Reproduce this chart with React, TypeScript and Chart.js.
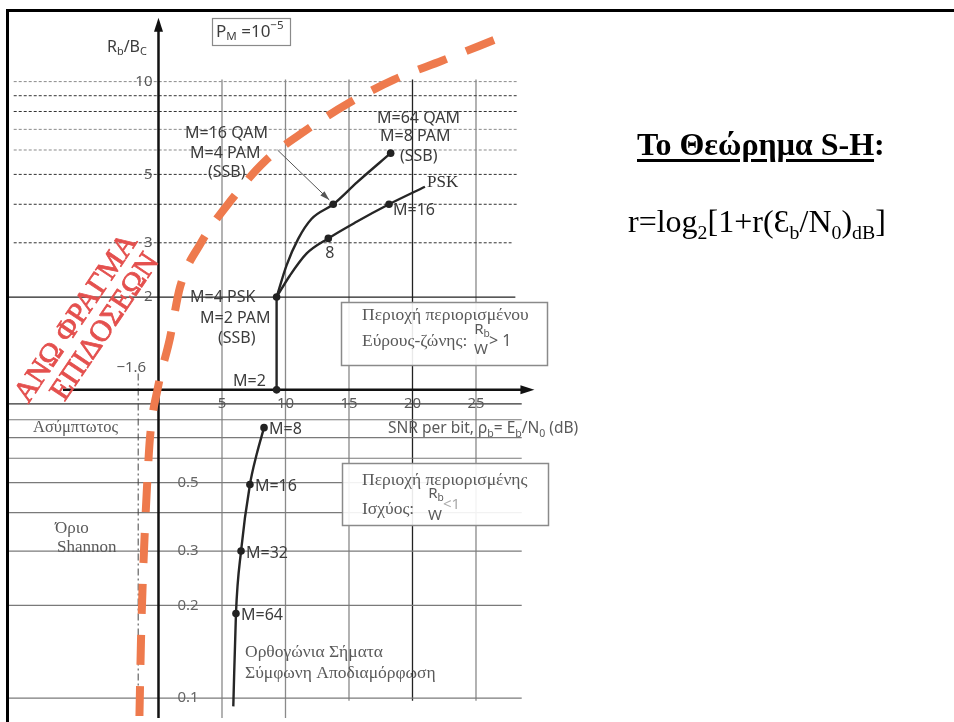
import React, { useEffect, useRef } from "react";
import { Chart, registerables } from "chart.js";

Chart.register(...registerables);

// Axis ranges: SNR per bit in dB (x) and spectral efficiency R/W on a log scale (y)
const SNR_MIN = -11.85;
const SNR_MAX = 30.04;
const RATE_MIN = 0.0862;
const RATE_MAX = 16.82;

const snrTickValues = [5, 10, 15, 20, 25];
const rateTicksAbove = [10, 5, 3, 2];
const rateTicksBelow = [0.5, 0.3, 0.2, 0.1];

const dottedGridRates = [10, 9, 8, 7, 6, 5, 4, 3];
const darkDottedRates = [9, 8, 5, 4, 3];
const solidGridRates = [0.9, 0.8, 0.7, 0.6, 0.5, 0.4, 0.3, 0.2, 0.1];
const verticalGridSnr = [5, 10, 15, 20, 25];

// Shannon capacity bound
const boundSnr = [-1.5, -1.38, -1.26, -1.1, -0.91, -0.67, -0.04, 0.9, 1.69, 3.35, 5.79, 8.39, 11.61, 14.92, 18.54, 22.32, 26.65];
const boundRate = [0.0875, 0.153, 0.225, 0.331, 0.48, 0.7, 1.02, 1.47, 2.15, 3.0, 4.16, 5.52, 6.95, 8.49, 10.15, 11.69, 13.76];

// Shannon limit asymptote (dB)
const shannonLimitDb = -1.6;

// Bandwidth-limited region: M=2 to M=4, then QAM/PAM and PSK branches
const bpskSnr = [9.3, 9.3];
const bpskRate = [1, 2];
const qamSnr = [9.3, 10.09, 11.0, 12.06, 13.76, 15.65, 18.28];
const qamRate = [2, 2.54, 3.09, 3.59, 4.0, 4.72, 5.86];
const pskSnr = [9.3, 10.35, 11.67, 13.37, 15.6, 18.15, 20.98];
const pskRate = [2, 2.35, 2.77, 3.1, 3.51, 4.0, 4.56];

// Power-limited region: orthogonal signals, coherent detection
const orthoSnr = [5.89, 6.1, 6.5, 7.2, 7.73, 8.31];
const orthoRate = [0.094, 0.188, 0.3, 0.493, 0.618, 0.754];

// Operating points marked on the curves
const pointSnr = [9.3, 9.3, 13.76, 18.28, 13.37, 18.15, 8.31, 7.2, 6.5, 6.1];
const pointRate = [1, 2, 4.0, 5.86, 3.1, 4.0, 0.754, 0.493, 0.3, 0.188];

// Callout from the 16-QAM label to its operating point
const calloutSnr = [9.37, 13.45];
const calloutRate = [6.0, 4.13];

const SANS = '"Noto Sans", "Open Sans", sans-serif';
const SERIF = '"Liberation Serif", "DejaVu Serif", serif';

type Part = [string, number];

const xy = (xs: number[], ys: number[]) => xs.map((x, i) => ({ x, y: ys[i] }));

function line(xs: number[], ys: number[], color: string, width: number, order: number, dash: number[] = []) {
  return {
    data: xy(xs, ys),
    borderColor: color,
    borderWidth: width,
    borderDash: dash,
    pointRadius: 0,
    fill: false,
    tension: 0,
    order,
  };
}

function rich(ctx: CanvasRenderingContext2D, parts: Part[], x: number, y: number, size: number, family: string, color: string, align = "left") {
  const small = size * 0.68;
  let total = 0;
  for (const [t, m] of parts) {
    ctx.font = `${m ? small : size}px ${family}`;
    total += ctx.measureText(t).width;
  }
  let cx = align === "center" ? x - total / 2 : align === "right" ? x - total : x;
  ctx.fillStyle = color;
  ctx.textAlign = "left";
  ctx.textBaseline = "middle";
  for (const [t, m] of parts) {
    ctx.font = `${m ? small : size}px ${family}`;
    const dy = m === 1 ? size * 0.3 : m === 2 ? -size * 0.38 : 0;
    ctx.fillText(t, cx, y + dy);
    cx += ctx.measureText(t).width;
  }
}

function text(ctx: CanvasRenderingContext2D, s: string, x: number, y: number, size: number, family: string, color: string, align: CanvasTextAlign = "left") {
  ctx.font = `${size}px ${family}`;
  ctx.fillStyle = color;
  ctx.textAlign = align;
  ctx.textBaseline = "middle";
  ctx.fillText(s, x, y);
}

const figureText = {
  id: "figureText",
  afterDatasetsDraw(chart: any) {
    const ctx: CanvasRenderingContext2D = chart.ctx;
    const X = (v: number) => chart.scales.x.getPixelForValue(v);
    const Y = (v: number) => chart.scales.y.getPixelForValue(v);
    ctx.save();

    // axis arrowheads
    ctx.fillStyle = "#111";
    const ax = X(0);
    const at = Y(16.1);
    ctx.beginPath();
    ctx.moveTo(ax, at);
    ctx.lineTo(ax - 4.5, at + 14);
    ctx.lineTo(ax + 4.5, at + 14);
    ctx.closePath();
    ctx.fill();
    const bx = X(29.6);
    const by = Y(1);
    ctx.beginPath();
    ctx.moveTo(bx, by);
    ctx.lineTo(bx - 14, by - 4.5);
    ctx.lineTo(bx - 14, by + 4.5);
    ctx.closePath();
    ctx.fill();

    // callout arrow
    const x0 = X(calloutSnr[0]);
    const y0 = Y(calloutRate[0]);
    const x1 = X(calloutSnr[1]);
    const y1 = Y(calloutRate[1]);
    ctx.strokeStyle = "#555";
    ctx.lineWidth = 1;
    ctx.beginPath();
    ctx.moveTo(x0, y0);
    ctx.lineTo(x1, y1);
    ctx.stroke();
    const ang = Math.atan2(y1 - y0, x1 - x0);
    ctx.fillStyle = "#555";
    ctx.beginPath();
    ctx.moveTo(x1, y1);
    ctx.lineTo(x1 - 10 * Math.cos(ang - 0.3), y1 - 10 * Math.sin(ang - 0.3));
    ctx.lineTo(x1 - 10 * Math.cos(ang + 0.3), y1 - 10 * Math.sin(ang + 0.3));
    ctx.closePath();
    ctx.fill();

    // boxes
    const box = (x: number, y: number, w: number, h: number, lw: number) => {
      ctx.fillStyle = "rgba(255,255,255,0.9)";
      ctx.fillRect(x, y, w, h);
      ctx.strokeStyle = "#8a8a8a";
      ctx.lineWidth = lw;
      ctx.strokeRect(x, y, w, h);
    };
    box(212.5, 18.5, 78, 27, 1.2);
    box(341.5, 302.5, 206, 63, 1.5);
    box(342.5, 463.5, 206, 62, 1.5);

    const ink = "#3c3c3c";
    const grey = "#5a5a5a";

    rich(ctx, [["P", 0], ["M", 1], [" =10", 0], ["\u22125", 2]], 216, 32, 17, SANS, ink);
    rich(ctx, [["R", 0], ["b", 1], ["/B", 0], ["C", 1]], 107, 47, 16, SANS, ink);

    // tick labels
    for (const v of rateTicksAbove) text(ctx, String(v), X(0) - 6, Y(v), 15, SANS, grey, "right");
    for (const v of rateTicksBelow) text(ctx, String(v), X(0) + 19, Y(v), 15, SANS, "#666", "left");
    for (const v of snrTickValues) text(ctx, String(v), X(v), Y(0.9), 15, SANS, grey, "center");
    text(ctx, "\u22121.6", X(shannonLimitDb) + 8, 368, 15, SANS, grey, "right");

    rich(ctx, [["SNR per bit, \u03c1", 0], ["b", 1], ["= E", 0], ["b", 1], ["/N", 0], ["0", 1], [" (dB)", 0]], 388, 429, 15.5, SANS, grey);

    // curve labels
    const lab = (s: string, x: number, y: number) => text(ctx, s, x, y, 16, SANS, ink);
    lab("M=16 QAM", 185, 133.5);
    lab("M=4 PAM", 190, 153.5);
    lab("(SSB)", 208, 172);
    lab("M=64 QAM", 377, 118.5);
    lab("M=8 PAM", 380, 136.5);
    lab("(SSB)", 400, 156.5);
    text(ctx, "PSK", 427, 182.5, 17, SERIF, "#333");
    lab("M=16", X(pointSnr[5]) + 4, Y(pointRate[5]) + 6);
    lab("8", X(pointSnr[4]) - 3, Y(pointRate[4]) + 15);
    lab("M=4 PSK", 190, 297.5);
    lab("M=2 PAM", 200, 318.5);
    lab("(SSB)", 218, 338.5);
    lab("M=2", 233, 381.5);
    const ortho = ["M=8", "M=16", "M=32", "M=64"];
    ortho.forEach((s, i) => lab(s, X(pointSnr[6 + i]) + 5, Y(pointRate[6 + i]) + 2));

    text(ctx, "\u039f\u03c1\u03b8\u03bf\u03b3\u03ce\u03bd\u03b9\u03b1 \u03a3\u03ae\u03bc\u03b1\u03c4\u03b1", 245, 652, 17.5, SERIF, grey);
    text(ctx, "\u03a3\u03cd\u03bc\u03c6\u03c9\u03bd\u03b7 \u0391\u03c0\u03bf\u03b4\u03b9\u03b1\u03bc\u03cc\u03c1\u03c6\u03c9\u03c3\u03b7", 245, 673, 17.5, SERIF, grey);
    text(ctx, "\u0391\u03c3\u03cd\u03bc\u03c0\u03c4\u03c9\u03c4\u03bf\u03c2", 33, 427.5, 16.5, SERIF, grey);
    text(ctx, "\u038c\u03c1\u03b9\u03bf", 55, 529, 17, SERIF, grey);
    text(ctx, "Shannon", 57, 548, 17, SERIF, grey);

    // region boxes
    text(ctx, "\u03a0\u03b5\u03c1\u03b9\u03bf\u03c7\u03ae \u03c0\u03b5\u03c1\u03b9\u03bf\u03c1\u03b9\u03c3\u03bc\u03ad\u03bd\u03bf\u03c5", 362, 315, 17.5, SERIF, grey);
    text(ctx, "\u0395\u03cd\u03c1\u03bf\u03c5\u03c2-\u03b6\u03ce\u03bd\u03b7\u03c2:", 362, 341, 17.5, SERIF, grey);
    rich(ctx, [["R", 0], ["b", 1]], 482, 330, 15, SANS, grey, "center");
    text(ctx, "W", 481, 350, 15, SANS, grey, "center");
    text(ctx, "> 1", 489, 341, 16, SANS, grey);

    text(ctx, "\u03a0\u03b5\u03c1\u03b9\u03bf\u03c7\u03ae \u03c0\u03b5\u03c1\u03b9\u03bf\u03c1\u03b9\u03c3\u03bc\u03ad\u03bd\u03b7\u03c2", 362, 480, 17.5, SERIF, grey);
    text(ctx, "\u0399\u03c3\u03c7\u03cd\u03bf\u03c2:", 362, 509, 17.5, SERIF, grey);
    rich(ctx, [["R", 0], ["b", 1]], 436, 493.5, 15, SANS, grey, "center");
    text(ctx, "W", 435, 516, 15, SANS, grey, "center");
    text(ctx, "<1", 443, 505, 15, SANS, "#aaa");

    // rotated heading of the bound
    ctx.save();
    ctx.translate(76.5, 318.5);
    ctx.rotate((-56 * Math.PI) / 180);
    ctx.font = `30px ${SERIF}`;
    ctx.textAlign = "center";
    ctx.textBaseline = "middle";
    ctx.fillStyle = "#e4504e";
    ctx.strokeStyle = "#e4504e";
    ctx.lineWidth = 0.8;
    ctx.fillText("\u0391\u039d\u03a9 \u03a6\u03a1\u0391\u0393\u039c\u0391", 0, 0);
    ctx.strokeText("\u0391\u039d\u03a9 \u03a6\u03a1\u0391\u0393\u039c\u0391", 0, 0);
    ctx.fillText("\u0395\u03a0\u0399\u0394\u039f\u03a3\u0395\u03a9\u039d", 9, 29);
    ctx.strokeText("\u0395\u03a0\u0399\u0394\u039f\u03a3\u0395\u03a9\u039d", 9, 29);
    ctx.restore();

    ctx.restore();
  },
};

function buildDatasets() {
  const ds: any[] = [];
  for (const r of dottedGridRates) {
    const dark = darkDottedRates.includes(r);
    ds.push(line([-11.4, r === 3 ? 27.8 : 28.2], [r, r], dark ? "#333" : "#8a8a8a", 1, 6, [3, 2]));
  }
  ds.push(line([SNR_MIN, 28.1], [2, 2], "#222", 1.3, 6));
  for (const r of solidGridRates) {
    ds.push(line([SNR_MIN, 28.6], [r, r], r === 0.9 ? "#333" : "#7a7a7a", 1.2, 6));
  }
  for (const v of verticalGridSnr) {
    ds.push(line([v, v], [10.15, v <= 10 ? RATE_MIN : 0.098], v === 20 ? "#222" : "#8a8a8a", 1.3, 6));
  }
  // axes
  ds.push(line([0, 0], [RATE_MIN, 15.4], "#111", 2.5, 4));
  ds.push(line([-7.52, 29.0], [1, 1], "#111", 2.5, 4));
  ds.push(line([shannonLimitDb, shannonLimitDb], [1.13, RATE_MIN], "#444", 1, 4, [7, 3, 2, 3]));

  const curve = (xs: number[], ys: number[]) => ({
    data: xy(xs, ys),
    borderColor: "#262626",
    borderWidth: 2.4,
    pointRadius: 0,
    fill: false,
    cubicInterpolationMode: "monotone",
    order: 2,
  });
  ds.push(curve(bpskSnr, bpskRate));
  ds.push(curve(qamSnr, qamRate));
  ds.push(curve(pskSnr, pskRate));
  ds.push(curve(orthoSnr, orthoRate));

  ds.push({
    data: xy(boundSnr, boundRate),
    borderColor: "#ee7a4d",
    borderWidth: 8,
    borderDash: [30, 21],
    borderCapStyle: "butt",
    pointRadius: 0,
    fill: false,
    cubicInterpolationMode: "monotone",
    order: 1,
  });
  ds.push({
    data: xy(pointSnr, pointRate),
    showLine: false,
    pointRadius: 3.8,
    pointBackgroundColor: "#222",
    pointBorderWidth: 0,
    order: 0,
  });
  return ds;
}

export default function App() {
  const ref = useRef<HTMLCanvasElement>(null);
  useEffect(() => {
    const chart = new Chart(ref.current as HTMLCanvasElement, {
      type: "line",
      data: { datasets: buildDatasets() },
      options: {
        animation: false,
        responsive: false,
        devicePixelRatio: 1,
        events: [],
        layout: { padding: { left: 8, right: 414, top: 12, bottom: 0 } },
        scales: {
          x: { type: "linear", min: SNR_MIN, max: SNR_MAX, display: false },
          y: { type: "logarithmic", min: RATE_MIN, max: RATE_MAX, display: false },
        },
        plugins: { legend: { display: false }, tooltip: { enabled: false } },
      },
      plugins: [figureText],
    } as any);
    return () => chart.destroy();
  }, []);

  return (
    <div style={{ position: "absolute", left: 0, top: 0, width: 954, height: 722, background: "#fff", overflow: "hidden" }}>
      <canvas ref={ref} width={954} height={722} style={{ position: "absolute", left: 0, top: 0, width: 954, height: 722 }} />
      <div style={{ position: "absolute", left: 6, top: 9, width: 960, height: 730, borderTop: "3px solid #000", borderLeft: "3px solid #000", pointerEvents: "none" }} />
      <div style={{ position: "absolute", left: 637, top: 128, fontFamily: SERIF, fontWeight: "bold", fontSize: 32, lineHeight: 1, whiteSpace: "nowrap" }}>
        <span style={{ textDecoration: "underline", textDecorationThickness: 3, textUnderlineOffset: 4 }}>Το Θεώρημα S-H</span>:
      </div>
      <div style={{ position: "absolute", left: 628, top: 205, fontFamily: SERIF, fontSize: 32, lineHeight: 1, whiteSpace: "nowrap" }}>
        r=log<sub style={{ fontSize: "0.62em" }}>2</sub>[1+r(Ɛ<sub style={{ fontSize: "0.62em" }}>b</sub>/N<sub style={{ fontSize: "0.62em" }}>0</sub>)<sub style={{ fontSize: "0.62em" }}>dB</sub>]
      </div>
    </div>
  );
}
